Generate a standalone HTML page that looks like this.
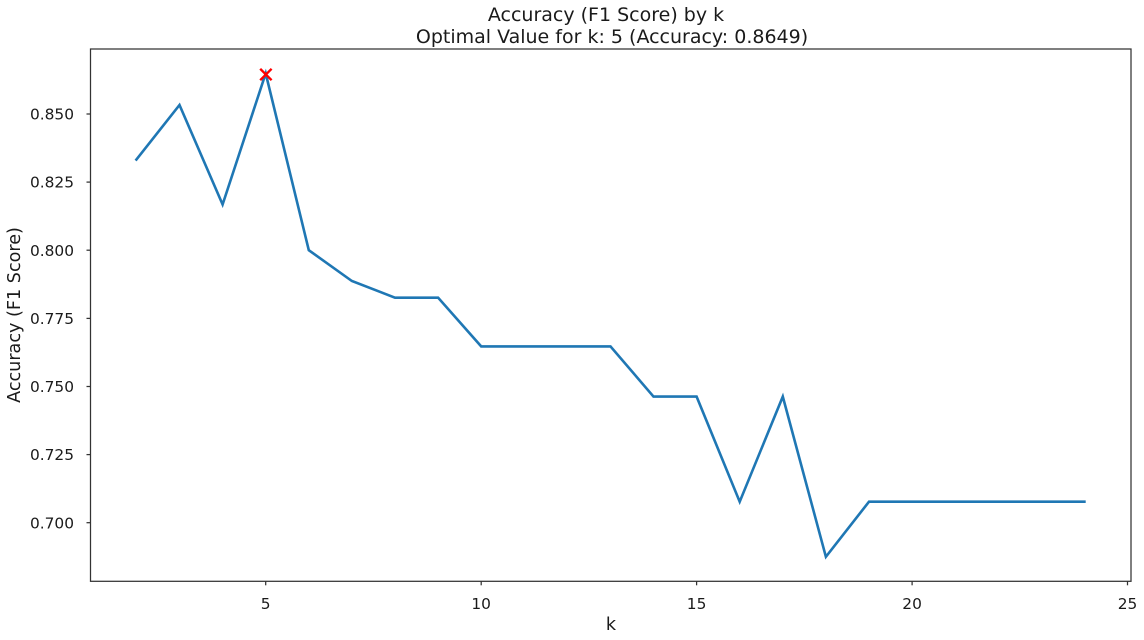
<!DOCTYPE html>
<html><head><meta charset="utf-8"><style>
html,body{margin:0;padding:0;background:#fff;}
svg{display:block;}
text{font-family:"DejaVu Sans","Liberation Sans",sans-serif;fill:#1a1a1a;}
</style></head><body>
<svg width="1144" height="640" viewBox="0 0 1144 640" xmlns="http://www.w3.org/2000/svg">
<rect width="1144" height="640" fill="#fff"/>
<text x="606" y="21" font-size="19" text-anchor="middle">Accuracy (F1 Score) by k</text>
<text x="612" y="43" font-size="19" text-anchor="middle">Optimal Value for k: 5 (Accuracy: 0.8649)</text>
<g stroke="#333" stroke-width="1.25">
<line x1="86.5" y1="114" x2="90.5" y2="114"/>
<line x1="86.5" y1="182.1" x2="90.5" y2="182.1"/>
<line x1="86.5" y1="250.2" x2="90.5" y2="250.2"/>
<line x1="86.5" y1="318.4" x2="90.5" y2="318.4"/>
<line x1="86.5" y1="386.5" x2="90.5" y2="386.5"/>
<line x1="86.5" y1="454.6" x2="90.5" y2="454.6"/>
<line x1="86.5" y1="522.7" x2="90.5" y2="522.7"/>
<line x1="265.7" y1="581.3" x2="265.7" y2="585.3"/>
<line x1="481.2" y1="581.3" x2="481.2" y2="585.3"/>
<line x1="696.6" y1="581.3" x2="696.6" y2="585.3"/>
<line x1="912.1" y1="581.3" x2="912.1" y2="585.3"/>
<line x1="1127.5" y1="581.3" x2="1127.5" y2="585.3"/>
</g>
<g font-size="15.4" text-anchor="end">
<text x="74" y="119.6">0.850</text>
<text x="74" y="187.7">0.825</text>
<text x="74" y="255.8">0.800</text>
<text x="74" y="324">0.775</text>
<text x="74" y="392.1">0.750</text>
<text x="74" y="460.2">0.725</text>
<text x="74" y="528.3">0.700</text>
</g>
<g font-size="15.4" text-anchor="middle">
<text x="265.7" y="609">5</text>
<text x="481.2" y="609">10</text>
<text x="696.6" y="609">15</text>
<text x="912.1" y="609">20</text>
<text x="1127.5" y="609">25</text>
</g>
<text x="611" y="630" font-size="17.6" text-anchor="middle">k</text>
<text transform="translate(20,315) rotate(-90)" font-size="17.6" text-anchor="middle">Accuracy (F1 Score)</text>
<polyline fill="none" stroke="#1f77b4" stroke-width="2.6" stroke-linejoin="miter" stroke-linecap="square" points="136.4,159.5 179.5,105 222.6,204.5 265.7,73.4 308.8,250.2 351.9,281 395,297.7 438.1,297.7 481.2,346.4 524.3,346.4 567.4,346.4 610.5,346.4 653.5,396.6 696.6,396.6 739.7,501.7 782.8,396.6 825.9,556.8 869,501.7 912.1,501.7 955.2,501.7 998.3,501.7 1041.4,501.7 1084.4,501.7"/>
<g stroke="#ff0000" stroke-width="2.4">
<line x1="260.2" y1="68.8" x2="271.6" y2="80.2"/>
<line x1="260.2" y1="80.2" x2="271.6" y2="68.8"/>
</g>
<rect x="90.5" y="49" width="1040.5" height="532.3" fill="none" stroke="#333" stroke-width="1.25"/>
</svg>
</body></html>
